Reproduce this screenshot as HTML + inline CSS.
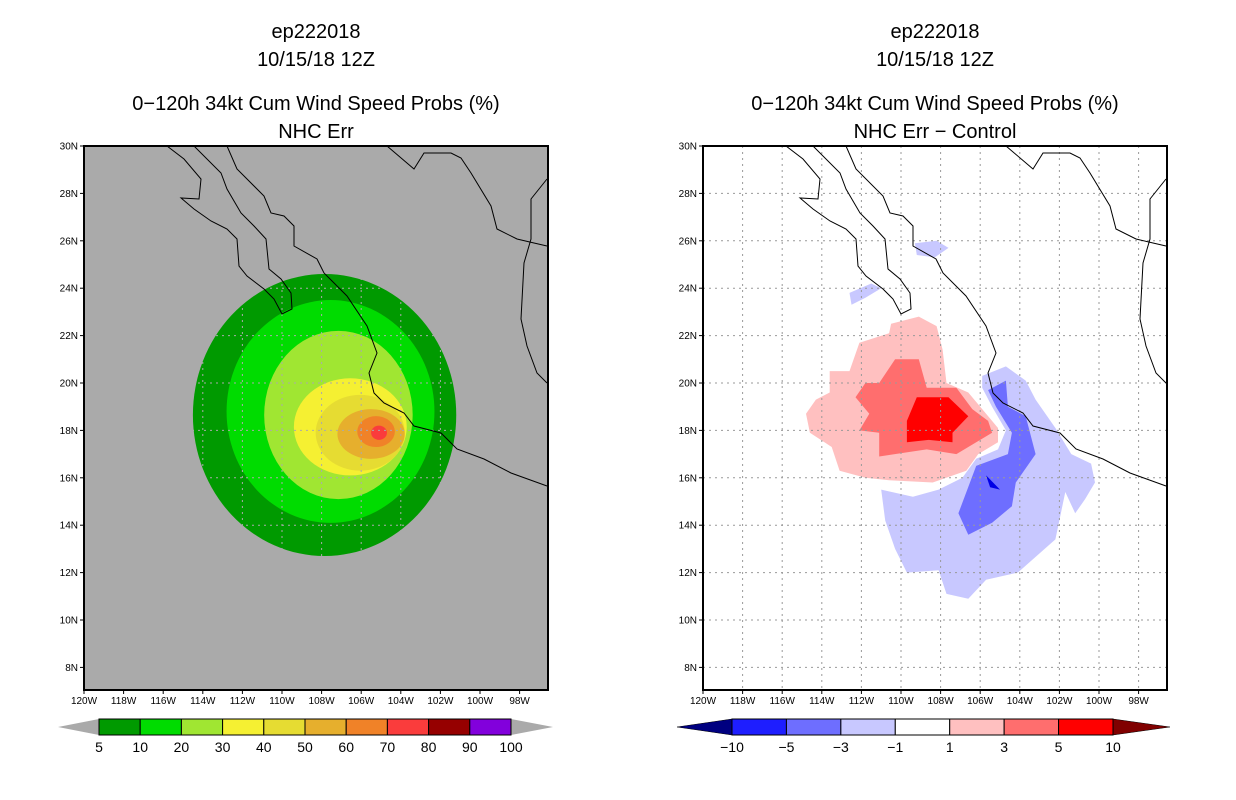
<!DOCTYPE html>
<html><head><meta charset="utf-8"><style>
body{margin:0;background:#fff;width:1236px;height:800px;overflow:hidden}
svg{display:block}
text{font-family:"Liberation Sans",sans-serif;fill:#000}
</style></head><body>
<svg id="c" width="1236" height="800" xmlns="http://www.w3.org/2000/svg"></svg>
<script>
// ---------- data ----------
const latTicks=[30,28,26,24,22,20,18,16,14,12,10,8];
const lonTicks=[120,118,116,114,112,110,108,106,104,102,100,98];
// left panel: probability contour extents [west, east, south, north] (deg W / deg N)
const probLevels=[5,10,20,30,40,50,60,70];
const probWest=[114.5,112.8,110.9,109.4,108.3,107.2,106.2,105.5];
const probEast=[101.2,102.3,103.4,103.7,103.8,103.8,104.3,104.7];
const probSouth=[12.7,14.1,15.1,16.1,16.3,16.8,17.3,17.6];
const probNorth=[24.6,23.5,22.2,20.2,19.5,18.9,18.6,18.2];
const probColors=["#009a00","#00dc00","#a0e632","#f5f032","#e6dc32","#e6af2d","#f08228","#fa3c3c"];
const leftBarLabels=["5","10","20","30","40","50","60","70","80","90","100"];
const leftBarColors=["#009a00","#00dc00","#a0e632","#f5f032","#e6dc32","#e6af2d","#f08228","#fa3c3c","#960000","#8200dc"];
// right panel difference contours (lon W, lat N)
const diffPink=[[110.5,22.5],[109.1,22.8],[108.2,22.4],[107.9,21.4],[107.7,20.0],[106.6,19.6],[105.1,18.1],[105.1,17.5],[106.1,17.0],[106.7,16.3],[108.4,15.8],[110.6,15.9],[111.8,16.0],[113.1,16.3],[113.5,17.3],[114.6,17.9],[114.8,18.7],[114.3,19.3],[113.6,19.6],[113.6,20.5],[112.6,20.5],[112.1,21.7],[110.6,22.1]];
const diffMedRed=[[110.3,21.0],[109.1,21.0],[108.7,19.8],[107.2,19.8],[106.4,18.9],[105.6,18.4],[105.4,17.9],[106.6,17.3],[107.2,17.0],[108.7,17.2],[111.1,16.9],[111.1,17.9],[112.1,18.0],[111.6,18.7],[112.3,19.4],[111.8,20.0],[111.1,20.0]];
const diffRed=[[109.2,19.4],[107.6,19.4],[106.6,18.6],[107.4,17.9],[107.4,17.5],[108.6,17.6],[109.7,17.5],[109.7,18.4]];
const diffLightBlue=[[105.9,20.3],[104.7,20.7],[103.7,20.1],[103.2,19.3],[102.2,18.1],[101.4,17.0],[100.4,16.6],[100.2,15.8],[100.7,15.1],[101.2,14.5],[101.7,15.4],[102.2,13.4],[104.1,12.0],[105.7,11.7],[106.6,10.9],[107.7,11.1],[108.1,12.1],[109.7,12.0],[110.3,13.0],[110.8,14.2],[111.0,15.5],[109.4,15.2],[108.1,15.5],[106.9,16.0],[106.2,16.8],[105.1,17.2],[104.7,18.0],[105.4,19.0],[105.9,19.8]];
const diffLightBlue2=[[109.3,25.9],[108.2,26.0],[107.6,25.7],[108.3,25.3],[109.2,25.4]];
const diffLightBlue3=[[112.5,23.3],[112.6,23.8],[111.5,24.2],[111.0,24.0],[111.8,23.6]];
const diffMedBlue=[[105.6,19.7],[104.7,20.1],[104.6,19.0],[103.7,18.6],[103.2,17.0],[104.2,15.8],[104.4,14.8],[105.4,14.1],[106.6,13.6],[107.1,14.5],[106.2,16.5],[104.6,17.0],[104.4,17.9],[105.2,19.0]];
const diffDarkBlue=[[105.7,16.1],[105.0,15.5],[105.5,15.6]];
const rightBarLabels=["\u221210","\u22125","\u22123","\u22121","1","3","5","10"];
const rightBarColors=["#1e1eff","#6e6eff","#c8c8ff","#ffffff","#ffc0c0","#ff6e6e","#ff0000"];
// coastlines, as pixel offsets from the map frame's top-left corner
const coastBaja=[[83,0],[100,13],[117,33],[115,53],[97,52],[110,63],[127,75],[143,83],[153,93],[155,120],[163,130],[180,143],[190,153],[198,168],[208,163],[207,147],[197,133],[185,123],[182,93],[170,80],[157,67],[143,43],[137,27],[110,0]];
const coastMain=[[143,0],[153,23],[180,50],[187,67],[200,70],[210,80],[210,100],[233,113],[240,127],[263,150],[283,180],[293,207],[285,227],[290,247],[300,257],[320,267],[330,280],[357,287],[373,303],[400,313],[427,327],[463,340]];
const border=[[303,0],[330,23],[340,7],[367,7],[377,12],[387,27],[407,60],[413,83],[433,93],[450,97],[463,100]];
const coastGulf=[[463,33],[447,53],[447,93],[440,117],[437,173],[443,200],[453,227],[463,237]];

// ---------- helpers ----------
const svg=document.getElementById('c');const NS="http://www.w3.org/2000/svg";
function mk(tag,attrs,parent){const e=document.createElementNS(NS,tag);for(const k in attrs)e.setAttribute(k,attrs[k]);(parent||svg).appendChild(e);return e;}
const Y0=146,Y1=690,DPX=19.8,DPY=23.7;
function proj(x0){return{x:lon=>x0+(120-lon)*DPX,y:lat=>Y0+(30-lat)*DPY};}
function poly(p,pts,fill,g,name){const e=mk('polygon',{points:pts.map(q=>p.x(q[0]).toFixed(1)+','+p.y(q[1]).toFixed(1)).join(' '),fill:fill},g);

return e;}
function coast(x0,pts,g,name){const e=mk('polyline',{points:pts.map(q=>(x0+q[0])+','+(Y0+q[1])).join(' '),fill:'none',stroke:'#000','stroke-width':1},g);

}
function txt(x,y,s,size,anchor,name){const t=mk('text',{x:x,y:y,'font-size':size,'text-anchor':anchor||'middle'});t.textContent=s;

return t;}

function panel(x0,bg,sub,side){
  const p=proj(x0);const W=464;
  const cx=x0+W/2;
  txt(cx,38,'ep222018',20,'middle',side+'-title-id');
  txt(cx,66,'10/15/18 12Z',20,'middle',side+'-title-date');
  txt(cx,110,'0\u2212120h 34kt Cum Wind Speed Probs (%)',20,'middle',side+'-title-main');
  txt(cx,138,sub,20,'middle',side+'-subtitle');
  const clipId='clip'+side;
  const cp=mk('clipPath',{id:clipId});mk('rect',{x:x0,y:Y0,width:W,height:Y1-Y0},cp);
  const bgR=mk('rect',{x:x0,y:Y0,width:W,height:Y1-Y0,fill:bg});
  
  
  const g=mk('g',{'clip-path':'url(#'+clipId+')'});
  
  
  return {p,g,x0,W};
}
function frame(P,gridColor,side){
  const {p,g,x0,W}=P;
  latTicks.forEach(l=>{const e=mk('line',{x1:x0,x2:x0+W,y1:p.y(l),y2:p.y(l),stroke:gridColor,'stroke-dasharray':'2,4','stroke-width':1},g);
    
    });
  lonTicks.forEach(l=>{const e=mk('line',{x1:p.x(l),x2:p.x(l),y1:Y0,y2:Y1,stroke:gridColor,'stroke-dasharray':'2,4','stroke-width':1},g);
    
    });
  coast(x0,coastBaja,g,'coastline-baja');coast(x0,coastMain,g,'coastline-mainland');
  coast(x0,border,g,'us-mexico-border');coast(x0,coastGulf,g,'coastline-gulf');
  const f=mk('rect',{x:x0,y:Y0,width:W,height:Y1-Y0,fill:'none',stroke:'#000','stroke-width':2});
  
  
  latTicks.forEach(l=>{mk('line',{x1:x0-4,x2:x0,y1:p.y(l),y2:p.y(l),stroke:'#000'});
    txt(x0-6,p.y(l)+3.5,l+'N',10,'end',side+'-lat-label');});
  lonTicks.forEach(l=>{mk('line',{x1:p.x(l),x2:p.x(l),y1:Y1,y2:Y1+4,stroke:'#000'});
    txt(p.x(l),Y1+14,l+'W',10,'middle',side+'-lon-label');});
}

// ---------- left panel ----------
const L=panel(84,'#aaaaaa','NHC Err','left');
probLevels.forEach((lv,i)=>{
  const w=probWest[i],e=probEast[i],s=probSouth[i],n=probNorth[i];
  const cx=(L.p.x(w)+L.p.x(e))/2,cy=(L.p.y(n)+L.p.y(s))/2;
  const el=mk('ellipse',{cx:cx,cy:cy,rx:(L.p.x(e)-L.p.x(w))/2,ry:(L.p.y(s)-L.p.y(n))/2,fill:probColors[i]},L.g);
  
  
});
frame(L,'#aaaaaa','left');

// ---------- right panel ----------
const R=panel(703,'#ffffff','NHC Err \u2212 Control','right');
poly(R.p,diffLightBlue,'#c8c8ff',R.g,'diff-neg-1-3');
poly(R.p,diffLightBlue2,'#c8c8ff',R.g,'diff-neg-1-3-north');
poly(R.p,diffLightBlue3,'#c8c8ff',R.g,'diff-neg-1-3-strip');
poly(R.p,diffMedBlue,'#6e6eff',R.g,'diff-neg-3-5');
poly(R.p,diffDarkBlue,'#0000e6',R.g,'diff-neg-5-10');
poly(R.p,diffPink,'#ffc0c0',R.g,'diff-pos-1-3');
poly(R.p,diffMedRed,'#ff6e6e',R.g,'diff-pos-3-5');
poly(R.p,diffRed,'#ff0000',R.g,'diff-pos-5-10');
frame(R,'#999999','right');

// ---------- colorbars ----------
function colorbar(xs,xe,colors,labels,triL,triR,lw,rw,side){
  const y=719,h=16,n=colors.length,step=(xe-xs)/n;
  const t1=mk('polygon',{points:`${xs-lw},${y+h/2} ${xs},${y} ${xs},${y+h}`,fill:triL,stroke:side==='left'?'none':'#000','stroke-width':0.5});
  
  
  const t2=mk('polygon',{points:`${xe+rw},${y+h/2} ${xe},${y} ${xe},${y+h}`,fill:triR,stroke:side==='left'?'none':'#000','stroke-width':0.5});
  
  
  colors.forEach((c,i)=>{const r=mk('rect',{x:xs+i*step,y:y,width:step,height:h,fill:c,stroke:'#000','stroke-width':1});
    
    });
  labels.forEach((s,i)=>txt(xs+i*step,752,s,14,'middle',side+'-colorbar-label'));
}
colorbar(99,511,leftBarColors,leftBarLabels,'#aaaaaa','#aaaaaa',41,42,'left');
colorbar(732,1113,rightBarColors,rightBarLabels,'#000080','#800000',55,57,'right');
</script>
</body></html>
